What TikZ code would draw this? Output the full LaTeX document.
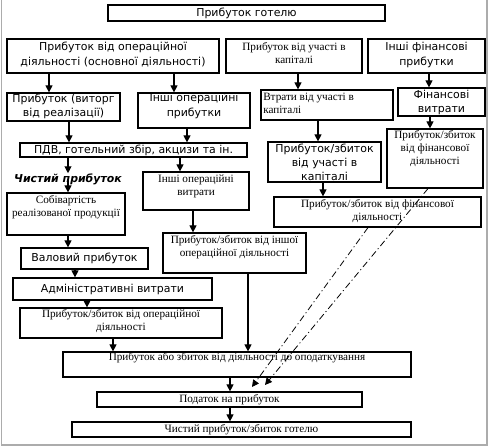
\documentclass[tikz,border=0pt]{standalone}
\usepackage{fontspec}
\setmainfont{Liberation Serif}
\setsansfont{DejaVu Sans}
\usetikzlibrary{arrows.meta,fit}
\begin{document}
\begin{tikzpicture}[x=0.75pt,y=-0.75pt,
  bx/.style={draw,line width=0.9pt,inner sep=0pt},
  sf/.style={font=\sffamily\fontsize{8.2}{10.6}\selectfont,inner sep=0pt,align=center},
  rm/.style={font=\rmfamily\fontsize{8.4}{9.8}\selectfont,inner sep=0pt,align=center},
  arr/.style={-{Triangle[width=5.2pt,length=5.2pt]},line width=0.8pt},
  dd/.style={-{Triangle[width=5.2pt,length=5.2pt]},line width=0.6pt,dash pattern=on 5pt off 2.2pt on 0.8pt off 2.2pt}]
\useasboundingbox (0,0) rectangle (489,448);
\draw[gray!65,line width=1.1pt] (1.5,0) -- (1.5,445) -- (487,445) -- (487,0);
% boxes
\node[bx,fit={(108,5)(385,21)}] (top) {};
\node[sf] (topT) at (246.5,13) {Прибуток готелю};
\node[bx,fit={(7,39)(219,73)}] (op) {};
\node[sf] (opT) at (113,54.5) {Прибуток від операційної\\діяльності (основної діяльності)};
\node[bx,fit={(226,39)(362,73)}] (uch) {};
\node[rm] (uchT) at (294,53.5) {Прибуток від участі в\\капіталі};
\node[bx,fit={(368,39)(485,73)}] (ifp) {};
\node[sf] (ifpT) at (426.5,55) {Інші фінансові\\прибутки};
\node[bx,fit={(7,93)(120,121)}] (vyt) {};
\node[sf] (vytT) at (63.5,106.5) {Прибуток (виторг\\від реалізації)};
\node[bx,fit={(138,93)(250,128)}] (iop) {};
\node[sf] (iopT) at (194,106) {Інші операційні\\прибутки};
\node[bx,fit={(261,90)(393,120)}] (vtr) {};
\node[rm,align=left,anchor=west] (vtrT) at (263,103.5) {Втрати від участі в\\капіталі};
\node[bx,fit={(398,88)(485,116)}] (fv) {};
\node[sf] (fvT) at (441.5,102.5) {Фінансові\\витрати};
\node[bx,fit={(20,143)(247,157)}] (pdv) {};
\node[sf] (pdvT) at (133.5,150) {ПДВ, готельний збір, акцизи та ін.};
\node[bx,fit={(268,142)(381,182)}] (puk) {};
\node[sf] (pukT) at (324.5,162) {Прибуток/збиток\\від участі в\\капіталі};
\node[bx,fit={(387,129)(483,188)}] (pfa) {};
\node[rm] (pfaT) at (435,148.5) {Прибуток/збиток\\від фінансової\\діяльності};
\node[bx,fit={(274,197)(481,227)}] (pfb) {};
\node[rm] (pfbT) at (377.5,211.5) {Прибуток/збиток від фінансової\\діяльності};
\node[font=\sffamily\bfseries\itshape\fontsize{8.2}{10}\selectfont,inner sep=0pt] (chist) at (68,179) {Чистий прибуток};
\node[bx,fit={(143,172)(249,210)}] (iov) {};
\node[rm] (iovT) at (196,186) {Інші операційні\\витрати};
\node[bx,fit={(7,193)(125,235)}] (sob) {};
\node[rm] (sobT) at (66,207) {Собівартість\\реалізованої продукції};
\node[bx,fit={(163,233)(306,273)}] (pio) {};
\node[rm] (pioT) at (234.5,247.5) {Прибуток/збиток від іншої\\операційної діяльності};
\node[bx,fit={(21,248)(148,269)}] (val) {};
\node[sf] (valT) at (84.5,258.5) {Валовий прибуток};
\node[bx,fit={(13,278)(212,300)}] (adm) {};
\node[sf] (admT) at (112.5,289) {Адміністративні витрати};
\node[bx,fit={(20,308)(222,338)}] (pod) {};
\node[rm] (podT) at (121,321.5) {Прибуток/збиток від операційної\\діяльності};
\node[bx,fit={(63,352)(411,377)}] (pzo) {};
\node[rm] (pzoT) at (237,358) {Прибуток або збиток від діяльності до оподаткування};
\node[bx,fit={(97,392)(362,407)}] (tax) {};
\node[rm] (taxT) at (229.5,399.5) {Податок на прибуток};
\node[bx,fit={(72,422)(411,437)}] (net) {};
\node[rm] (netT) at (241.5,429.5) {Чистий прибуток/збиток готелю};
% arrows
\draw[arr] (op.south -| 49,0) -- (vyt.north -| 49,0);
\draw[arr] (op.south -| 174,0) -- (iop.north -| 174,0);
\draw[arr] (uch.south -| 298,0) -- (vtr.north -| 298,0);
\draw[arr] (ifp.south -| 429,0) -- (fv.north -| 429,0);
\draw[arr] (fv.south -| 430,0) -- (pfa.north -| 430,0);
\draw[arr] (vyt.south -| 69,0) -- (pdv.north -| 69,0);
\draw[arr] (iop.south -| 187,0) -- (pdv.north -| 187,0);
\draw[arr] (vtr.south -| 318,0) -- (puk.north -| 318,0);
\draw[arr] (puk.south -| 323,0) -- (pfb.north -| 323,0);
\draw[arr] (pdv.south -| 68,0) -- (chist.north -| 68,0);
\draw[arr] (chist.center -| 68,0) -- (sob.north -| 68,0);
\draw[arr] (pdv.south -| 180,0) -- (iov.north -| 180,0);
\draw[arr] (iov.south -| 193,0) -- (pio.north -| 193,0);
\draw[arr] (sob.south -| 68,0) -- (val.north -| 68,0);
\draw[arr] (val.south -| 75,0) -- (adm.north -| 75,0);
\draw[arr] (adm.south -| 87,0) -- (pod.north -| 87,0);
\draw[arr] (pod.south -| 113,0) -- (pzo.north -| 113,0);
\draw[arr] (pio.south -| 248,0) -- (pzo.north -| 248,0);
\draw[arr] (pzo.south -| 230,0) -- (tax.north -| 230,0);
\draw[arr] (tax.south -| 230,0) -- (net.north -| 230,0);
% dash-dot connectors
\coordinate (ea) at (265,385);
\coordinate (eb) at (252,387);
\draw[dd] (pfa.south -| 428,0) -- (ea);
\draw[dd] (pfb.south -| 368,0) -- (eb);
\end{tikzpicture}
\end{document}
